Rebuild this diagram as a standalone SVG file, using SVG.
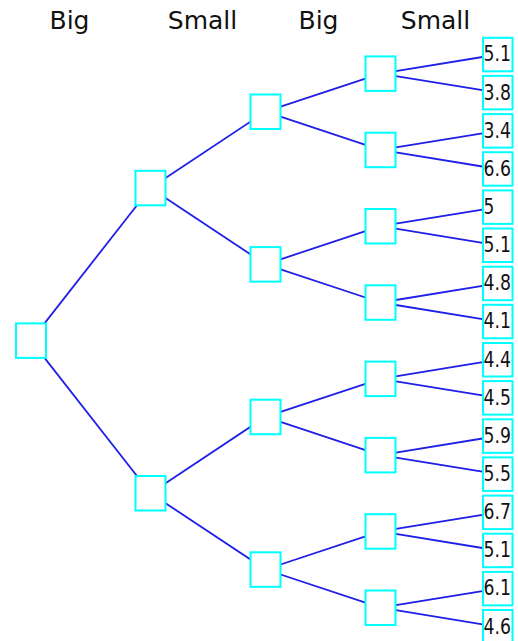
<svg xmlns="http://www.w3.org/2000/svg" width="518" height="641" viewBox="0 0 518 641">
<style>
.hdr{font-family:"DejaVu Sans","Liberation Sans",sans-serif;font-size:25px;fill:#111;text-anchor:middle}
.box{fill:#fff;stroke:#00ffff;stroke-width:2}
.lbl{font-family:"DejaVu Sans","Liberation Sans",sans-serif;font-size:22px;fill:#111}
.edge{stroke:#1f1fe8;stroke-width:1.8;fill:none}
</style>
<g id="headers">
<text class="hdr" x="69.5" y="29">Big</text>
<text class="hdr" x="202.5" y="29">Small</text>
<text class="hdr" x="318.5" y="29">Big</text>
<text class="hdr" x="435.5" y="29">Small</text>
</g>
<g id="connectors">
<line class="edge" x1="31" y1="340.6" x2="150.5" y2="188"/>
<line class="edge" x1="31" y1="340.6" x2="150.5" y2="493.2"/>
<line class="edge" x1="150.5" y1="188" x2="265.5" y2="111.7"/>
<line class="edge" x1="150.5" y1="188" x2="265.5" y2="264.3"/>
<line class="edge" x1="150.5" y1="493.2" x2="265.5" y2="416.9"/>
<line class="edge" x1="150.5" y1="493.2" x2="265.5" y2="569.5"/>
<line class="edge" x1="265.5" y1="111.7" x2="380.5" y2="73.6"/>
<line class="edge" x1="265.5" y1="111.7" x2="380.5" y2="149.9"/>
<line class="edge" x1="265.5" y1="264.3" x2="380.5" y2="226.2"/>
<line class="edge" x1="265.5" y1="264.3" x2="380.5" y2="302.5"/>
<line class="edge" x1="265.5" y1="416.9" x2="380.5" y2="378.8"/>
<line class="edge" x1="265.5" y1="416.9" x2="380.5" y2="455.1"/>
<line class="edge" x1="265.5" y1="569.5" x2="380.5" y2="531.4"/>
<line class="edge" x1="265.5" y1="569.5" x2="380.5" y2="607.7"/>
<line class="edge" x1="380.5" y1="73.6" x2="497.8" y2="54.5"/>
<line class="edge" x1="380.5" y1="73.6" x2="497.8" y2="92.7"/>
<line class="edge" x1="380.5" y1="149.9" x2="497.8" y2="130.8"/>
<line class="edge" x1="380.5" y1="149.9" x2="497.8" y2="169"/>
<line class="edge" x1="380.5" y1="226.2" x2="497.8" y2="207.1"/>
<line class="edge" x1="380.5" y1="226.2" x2="497.8" y2="245.3"/>
<line class="edge" x1="380.5" y1="302.5" x2="497.8" y2="283.4"/>
<line class="edge" x1="380.5" y1="302.5" x2="497.8" y2="321.6"/>
<line class="edge" x1="380.5" y1="378.8" x2="497.8" y2="359.7"/>
<line class="edge" x1="380.5" y1="378.8" x2="497.8" y2="397.9"/>
<line class="edge" x1="380.5" y1="455.1" x2="497.8" y2="436"/>
<line class="edge" x1="380.5" y1="455.1" x2="497.8" y2="474.2"/>
<line class="edge" x1="380.5" y1="531.4" x2="497.8" y2="512.3"/>
<line class="edge" x1="380.5" y1="531.4" x2="497.8" y2="550.5"/>
<line class="edge" x1="380.5" y1="607.7" x2="497.8" y2="588.6"/>
<line class="edge" x1="380.5" y1="607.7" x2="497.8" y2="626.8"/>
</g>
<g id="root"><rect class="box" x="16" y="323.4" width="30" height="34.5"/></g>
<g id="n1a"><rect class="box" x="135.5" y="170.8" width="30" height="34.5"/></g>
<g id="n1b"><rect class="box" x="135.5" y="476" width="30" height="34.5"/></g>
<g id="n2a"><rect class="box" x="250.5" y="94.5" width="30" height="34.5"/></g>
<g id="n2b"><rect class="box" x="250.5" y="247.1" width="30" height="34.5"/></g>
<g id="n2c"><rect class="box" x="250.5" y="399.7" width="30" height="34.5"/></g>
<g id="n2d"><rect class="box" x="250.5" y="552.3" width="30" height="34.5"/></g>
<g id="n3a"><rect class="box" x="365.5" y="56.4" width="30" height="34.5"/></g>
<g id="n3b"><rect class="box" x="365.5" y="132.7" width="30" height="34.5"/></g>
<g id="n3c"><rect class="box" x="365.5" y="209" width="30" height="34.5"/></g>
<g id="n3d"><rect class="box" x="365.5" y="285.3" width="30" height="34.5"/></g>
<g id="n3e"><rect class="box" x="365.5" y="361.6" width="30" height="34.5"/></g>
<g id="n3f"><rect class="box" x="365.5" y="437.9" width="30" height="34.5"/></g>
<g id="n3g"><rect class="box" x="365.5" y="514.2" width="30" height="34.5"/></g>
<g id="n3h"><rect class="box" x="365.5" y="590.5" width="30" height="34.5"/></g>
<g id="leaf1"><rect class="box" x="483" y="37.8" width="29.5" height="33.5"/><text class="lbl" x="483.5" y="61.3" textLength="27.4" lengthAdjust="spacingAndGlyphs">5.1</text></g>
<g id="leaf2"><rect class="box" x="483" y="75.9" width="29.5" height="33.5"/><text class="lbl" x="483.5" y="99.5" textLength="27.4" lengthAdjust="spacingAndGlyphs">3.8</text></g>
<g id="leaf3"><rect class="box" x="483" y="114.1" width="29.5" height="33.5"/><text class="lbl" x="483.5" y="137.6" textLength="27.4" lengthAdjust="spacingAndGlyphs">3.4</text></g>
<g id="leaf4"><rect class="box" x="483" y="152.2" width="29.5" height="33.5"/><text class="lbl" x="483.5" y="175.8" textLength="27.4" lengthAdjust="spacingAndGlyphs">6.6</text></g>
<g id="leaf5"><rect class="box" x="483" y="190.4" width="29.5" height="33.5"/><text class="lbl" x="483.5" y="213.9" textLength="10.8" lengthAdjust="spacingAndGlyphs">5</text></g>
<g id="leaf6"><rect class="box" x="483" y="228.5" width="29.5" height="33.5"/><text class="lbl" x="483.5" y="252.1" textLength="27.4" lengthAdjust="spacingAndGlyphs">5.1</text></g>
<g id="leaf7"><rect class="box" x="483" y="266.7" width="29.5" height="33.5"/><text class="lbl" x="483.5" y="290.2" textLength="27.4" lengthAdjust="spacingAndGlyphs">4.8</text></g>
<g id="leaf8"><rect class="box" x="483" y="304.8" width="29.5" height="33.5"/><text class="lbl" x="483.5" y="328.4" textLength="27.4" lengthAdjust="spacingAndGlyphs">4.1</text></g>
<g id="leaf9"><rect class="box" x="483" y="343" width="29.5" height="33.5"/><text class="lbl" x="483.5" y="366.5" textLength="27.4" lengthAdjust="spacingAndGlyphs">4.4</text></g>
<g id="leaf10"><rect class="box" x="483" y="381.1" width="29.5" height="33.5"/><text class="lbl" x="483.5" y="404.7" textLength="27.4" lengthAdjust="spacingAndGlyphs">4.5</text></g>
<g id="leaf11"><rect class="box" x="483" y="419.3" width="29.5" height="33.5"/><text class="lbl" x="483.5" y="442.8" textLength="27.4" lengthAdjust="spacingAndGlyphs">5.9</text></g>
<g id="leaf12"><rect class="box" x="483" y="457.4" width="29.5" height="33.5"/><text class="lbl" x="483.5" y="481" textLength="27.4" lengthAdjust="spacingAndGlyphs">5.5</text></g>
<g id="leaf13"><rect class="box" x="483" y="495.6" width="29.5" height="33.5"/><text class="lbl" x="483.5" y="519.1" textLength="27.4" lengthAdjust="spacingAndGlyphs">6.7</text></g>
<g id="leaf14"><rect class="box" x="483" y="533.7" width="29.5" height="33.5"/><text class="lbl" x="483.5" y="557.3" textLength="27.4" lengthAdjust="spacingAndGlyphs">5.1</text></g>
<g id="leaf15"><rect class="box" x="483" y="571.9" width="29.5" height="33.5"/><text class="lbl" x="483.5" y="595.4" textLength="27.4" lengthAdjust="spacingAndGlyphs">6.1</text></g>
<g id="leaf16"><rect class="box" x="483" y="610" width="29.5" height="33.5"/><text class="lbl" x="483.5" y="633.6" textLength="27.4" lengthAdjust="spacingAndGlyphs">4.6</text></g>
</svg>
